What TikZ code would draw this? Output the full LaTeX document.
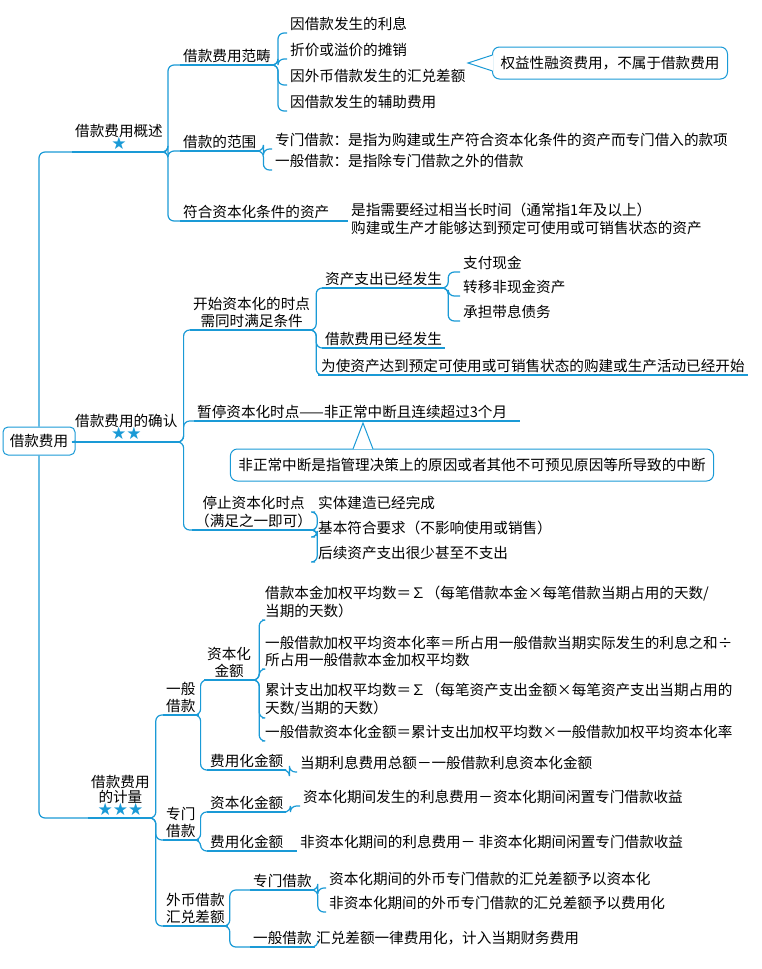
\documentclass[tikz,border=0pt]{standalone}
\usepackage{fontspec}
\setmainfont{Noto Sans CJK SC}
\newfontfamily\symfont{DejaVu Sans}
\usetikzlibrary{positioning}
\definecolor{mapblue}{HTML}{1A9AD6}

\begin{document}
\begin{tikzpicture}[x=1pt,y=-1pt,
	ln/.style={draw=mapblue, line width=1.2pt, rounded corners=6pt},
	lab/.style={anchor=south west, inner xsep=3pt, inner ysep=2pt, font=\fontsize{14.6}{17.5}\selectfont, align=left},
	top/.style={lab, align=center},
	note/.style={draw=mapblue, line width=1pt, rounded corners=7pt, fill=white, font=\fontsize{14.6}{17.5}\selectfont, inner xsep=8pt, minimum height=32pt}]
	\newcommand\ul[1]{\draw[ln] (#1.south west) -- (#1.south east);}
	\newcommand\br[3][4]{\draw[ln] (#2.south east) -- ++(#1,0) |- (#3.south west);}
	\newcommand\stars[1]{{\symfont\color{mapblue}\fontsize{17}{17}\selectfont #1}}
	\useasboundingbox (0,0) rectangle (761,969);
	% root
	\node (root) [draw=mapblue, line width=1pt, rounded corners=5pt, minimum width=72pt, minimum height=28pt, font=\fontsize{14.6}{17.5}\selectfont] at (39,441) {借款费用};
	% first level
	\node (gaishu) [top] at (72,152) {借款费用概述\\[-4pt]\stars{★}};
	\node (queren) [top] at (72,442) {借款费用的确认\\[-4pt]\stars{★★}};
	\node (jiliang) [top] at (88,818) {借款费用\\[-3pt]的计量\\[-4pt]\stars{★★★}};
	\foreach \n in {gaishu, queren, jiliang} {\ul{\n}}
	\draw[ln] (root.north) |- (gaishu.south west);
	\draw[ln] (root.east) -- (queren.south west);
	\draw[ln] (root.south) |- (jiliang.south west);
	% 借款费用概述
	\node (fanchou) [lab] at (180,65) {借款费用范畴};
	\node (fanwei) [lab] at (180,151) {借款的范围};
	\node (zichan) [lab] at (180,221) {符合资本化条件的资产};
	\foreach \n in {fanchou, fanwei, zichan} {\ul{\n} \br[2]{gaishu}{\n}}
	\node (lixi) [lab] at (287,33) {因借款发生的利息};
	\node (zheyi) [lab] at (287,59) {折价或溢价的摊销};
	\node (huidui) [lab] at (287,85) {因外币借款发生的汇兑差额};
	\node (fuzhu) [lab] at (287,111) {因借款发生的辅助费用};
	\foreach \n in {lixi, zheyi, huidui, fuzhu} {\br{fanchou}{\n}}
	\node (quanyi) [note, anchor=west] at (492,63) {权益性融资费用，不属于借款费用};
	\fill[white] (493,55) -- (468,63) -- (493,71) -- cycle;
	\draw[mapblue, line width=1pt] (492.5,55) -- (468,63) -- (492.5,71);
	\node (zhuanmen) [lab] at (272,149) {专门借款：是指为购建或生产符合资本化条件的资产而专门借入的款项};
	\node (yiban) [lab] at (272,170) {一般借款：是指除专门借款之外的借款};
	\foreach \n in {zhuanmen, yiban} {\br{fanwei}{\n}}
	\node (shizhi) [lab, anchor=north west, inner ysep=0pt] at (348,203) {是指需要经过相当长时间（通常指1年及以上）\\购建或生产才能够达到预定可使用或可销售状态的资产};
	\draw[ln] (zichan.south east) -- (shizhi.west |- zichan.south east);
	% 借款费用的确认
	\node (kaishi) [lab, align=center] at (190,330) {开始资本化的时点\\需同时满足条件};
	\node (zanting) [lab] at (194,421) {暂停资本化时点——非正常中断且连续超过3个月\hspace{10pt}};
	\node (tingzhi) [lab, align=center] at (192,530) {停止资本化时点\\（满足之一即可）};
	\foreach \n in {kaishi, zanting, tingzhi} {\ul{\n} \br[3]{queren}{\n}}
	\node (zhichu) [lab] at (322,288) {资产支出已经发生};
	\node (feiyong) [lab] at (322,348) {借款费用已经发生};
	\node (huodong) [lab] at (318,375) {为使资产达到预定可使用或可销售状态的购建或生产活动已经开始};
	\foreach \n in {zhichu, feiyong, huodong} {\ul{\n} \br[3]{kaishi}{\n}}
	\node (xianjin) [lab] at (460,272) {支付现金};
	\node (feixianjin) [lab] at (460,296) {转移非现金资产};
	\node (daixi) [lab] at (460,321) {承担带息债务};
	\foreach \n in {xianjin, feixianjin, daixi} {\br[3]{zhichu}{\n}}
	\node (zhongduan) [note] at (472,465) {非正常中断是指管理决策上的原因或者其他不可预见原因等所导致的中断};
	\fill[white] (353,449) -- (363,423) -- (373,449) -- cycle;
	\draw[mapblue, line width=1pt] (353,449) -- (363,423) -- (373,449);
	\node (wancheng) [lab] at (315,512) {实体建造已经完成};
	\node (fuhe) [lab] at (315,537) {基本符合要求（不影响使用或销售）};
	\node (houxu) [lab] at (315,562) {后续资产支出很少甚至不支出};
	\foreach \n in {wancheng, fuhe, houxu} {\br[2]{tingzhi}{\n}}
	% 借款费用的计量
	\node (ybjk) [lab, align=center] at (163,715) {一般\\借款};
	\node (zmjk) [lab, align=center] at (163,840) {专门\\借款};
	\node (wbjk) [lab, align=center] at (163,926) {外币借款\\汇兑差额};
	\foreach \n in {ybjk, zmjk, wbjk} {\ul{\n} \br[3]{jiliang}{\n}}
	\node (zbh) [lab, align=center] at (204,680) {资本化\\金额};
	\node (fyh) [lab] at (207,770) {费用化金额};
	\foreach \n in {zbh, fyh} {\ul{\n} \br[2]{ybjk}{\n}}
	\node (benjin) [lab] at (262,620) {借款本金加权平均数＝∑（每笔借款本金×每笔借款当期占用的天数/\\当期的天数）};
	\node (zbhl) [lab] at (262,669) {一般借款加权平均资本化率＝所占用一般借款当期实际发生的利息之和÷\\所占用一般借款本金加权平均数};
	\node (leiji) [lab] at (262,718) {累计支出加权平均数＝∑（每笔资产支出金额×每笔资产支出当期占用的\\天数/当期的天数）};
	\node (zbje) [lab] at (262,741) {一般借款资本化金额＝累计支出加权平均数×一般借款加权平均资本化率};
	\foreach \n in {benjin, zbhl, leiji, zbje} {\br[5]{zbh}{\n}}
	\node (dangqi) [lab] at (297,772) {当期利息费用总额－一般借款利息资本化金额};
	\br[3]{fyh}{dangqi}
	\node (zmzbh) [lab] at (207,812) {资本化金额};
	\node (zmfyh) [lab] at (207,851) {费用化金额};
	\foreach \n in {zmzbh, zmfyh} {\ul{\n} \br[2]{zmjk}{\n}}
	\node (zmzbhtxt) [lab] at (300,806) {资本化期间发生的利息费用－资本化期间闲置专门借款收益};
	\draw[ln] (zmzbh.south east) -- ++(4,0) |- (zmzbhtxt.south west);
	\node (zmfyhtxt) [lab] at (297,851) {非资本化期间的利息费用－ 非资本化期间闲置专门借款收益};
	\draw[ln] (zmfyh.south east) -- (zmfyhtxt.south west);
	\node (wbzm) [lab] at (250,890) {专门借款};
	\node (wbyb) [lab] at (250,947) {一般借款};
	\foreach \n in {wbzm, wbyb} {\ul{\n} \br[2]{wbjk}{\n}}
	\node (wbzbh) [lab] at (326,888) {资本化期间的外币专门借款的汇兑差额予以资本化};
	\node (wbfyh) [lab] at (326,912) {非资本化期间的外币专门借款的汇兑差额予以费用化};
	\foreach \n in {wbzbh, wbfyh} {\br[3]{wbzm}{\n}}
	\node (yilv) [lab] at (313,947) {汇兑差额一律费用化，计入当期财务费用};
	\br[3]{wbyb}{yilv}
\end{tikzpicture}
\end{document}
